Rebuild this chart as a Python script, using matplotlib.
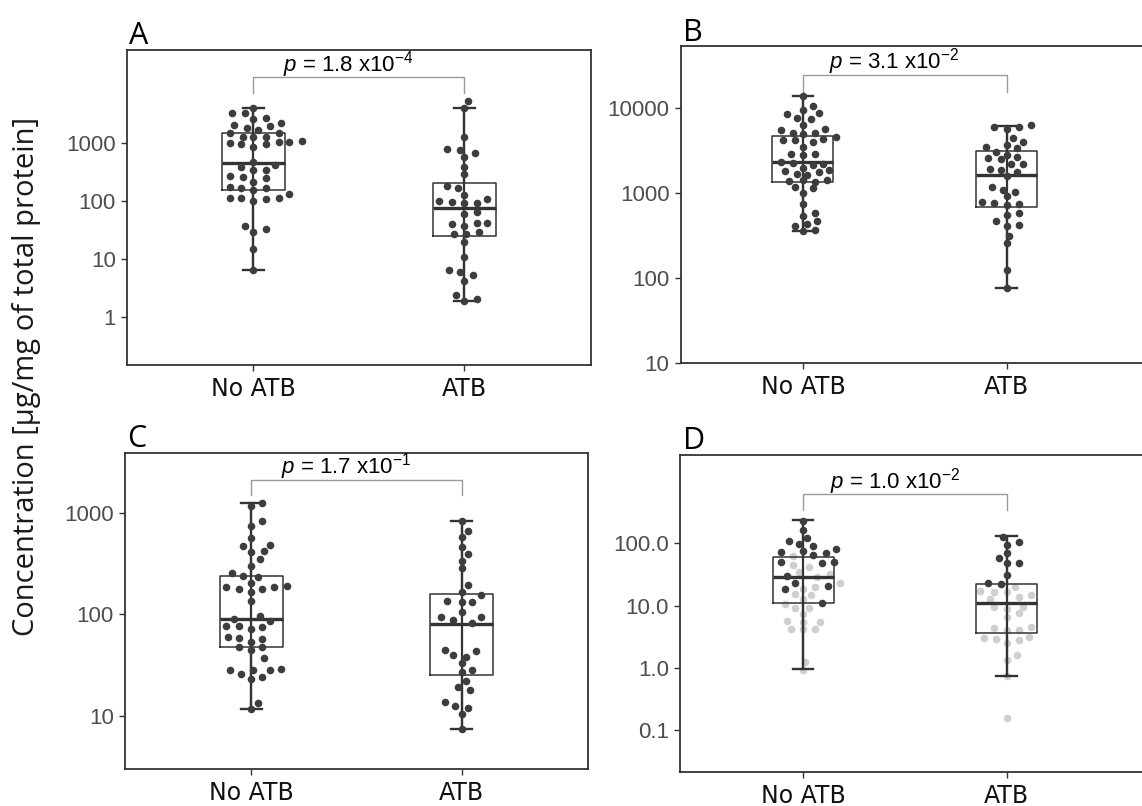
import numpy as np
import matplotlib.pyplot as plt
from matplotlib.ticker import NullLocator

plt.rcParams['font.family'] = ['Liberation Sans', 'DejaVu Sans']
plt.rcParams['mathtext.fontset'] = 'custom'
plt.rcParams['mathtext.rm'] = 'Liberation Sans'
plt.rcParams['mathtext.it'] = 'Liberation Sans:italic'

groups = ['No ATB', 'ATB']
ylabel = 'Concentration [µg/mg of total protein]'

# ---- panel A ----
a_no = [4010, 3200, 3200, 2560, 2700, 2150, 2020, 1770, 1650, 1940, 1490, 1270, 1270, 1270, 1450,
        1000, 935, 853, 948, 1010, 1010, 1070, 385, 470, 412, 338, 338, 266, 259, 213, 249,
        174, 167, 153, 167, 113, 110, 99, 107, 113, 129, 36, 29, 32, 14.5, 6.4]
a_no_dx = [0, -0.10, -0.04, 0, 0.06, 0.13, -0.09, -0.03, 0.02, 0.08, -0.11, -0.05, 0, 0.06, 0.12,
           -0.11, -0.06, 0, 0.06, 0.12, 0.17, 0.23, -0.06, 0, 0.10, 0, 0.06, -0.11, -0.05, 0, 0.06,
           -0.11, -0.06, 0, 0.06, -0.11, -0.06, 0, 0.06, 0.12, 0.17, -0.04, 0, 0.06, 0, 0]
a_atb = [5300, 4010, 1270, 778, 748, 655, 558, 385, 284, 179, 167, 125, 99, 96, 90, 92, 105, 60,
         65, 40, 37, 41, 42, 27, 27, 29, 19.6, 10.8, 6.5, 5.8, 5.2, 4.2, 2.4, 1.9, 2.0]
a_atb_dx = [0.02, 0, 0, -0.08, -0.02, 0.05, 0, 0, 0, -0.08, -0.03, 0, -0.12, -0.06, 0, 0.06, 0.11, 0,
            0.06, -0.06, 0, 0.06, 0.11, -0.05, 0.01, 0.07, 0, 0, -0.07, -0.02, 0.04, 0, -0.04, 0, 0.06]
a_med = [452, 76]
a_q1 = [153, 24.6]
a_q3 = [1450, 199]
a_lo = [6.4, 1.9]
a_hi = [4010, 4010]

# ---- panel B ----
b_no = [13500, 8430, 9390, 10470, 8730, 7500, 7300, 6250, 5470, 5000, 4860, 5000, 5570, 4560, 4170,
        4170, 3480, 3990, 4250, 2860, 2780, 2830, 2320, 2220, 1940, 2120, 2180, 1800, 1650, 1620,
        1730, 1820, 1380, 1390, 1350, 1420, 1150, 990, 1130, 733, 535, 574, 408, 431, 459, 350, 360]
b_no_dx = [0, -0.08, 0, 0.05, 0.08, -0.03, 0.04, 0, -0.11, -0.05, 0, 0.06, 0.11, 0.16, -0.10,
           -0.04, 0, 0.05, 0.10, -0.06, 0, 0.06, -0.11, -0.05, 0, 0.05, 0.10, -0.09, -0.03, 0.02,
           0.08, 0.13, -0.07, 0, 0.06, 0.12, -0.04, 0, 0.05, 0, 0, 0.06, -0.04, 0.02, 0.07, 0, 0.06]
b_atb = [5880, 5570, 5880, 6250, 4360, 3990, 3480, 3650, 2990, 3340, 2540, 2470, 2780, 2610, 2160,
         2160, 1900, 1850, 1550, 1730, 1180, 1080, 1010, 902, 767, 754, 707, 733, 550, 574, 458,
         408, 411, 311, 255, 122, 76]
b_atb_dx = [-0.06, 0, 0.06, 0.12, 0.03, 0.08, -0.10, 0, -0.05, 0.05, -0.09, -0.03, 0, 0.05, 0.02,
            0.08, -0.08, -0.03, 0, 0.05, -0.07, -0.02, 0.04, 0, -0.12, -0.06, 0, 0.06, 0, 0.06, -0.05,
            0, 0.06, 0.01, 0, 0, 0]
b_med = [2320, 1620]
b_q1 = [1350, 670]
b_q3 = [4690, 3100]
b_lo = [350, 76]
b_hi = [13500, 6150]

# ---- panel C ----
c_no = [1250, 1160, 828, 745, 568, 473, 481, 413, 423, 347, 301, 257, 235, 231, 202, 185, 178, 167,
        176, 187, 191, 135, 96, 89, 85, 77, 76, 71, 74, 60, 58, 53, 57, 47, 44, 47, 37, 28, 26, 28,
        28, 29, 23, 24, 13.3, 11.6]
c_no_dx = [0.05, 0, 0.05, 0, 0, -0.04, 0.09, 0, 0.06, 0.04, 0, -0.09, -0.04, 0.03, 0, -0.12, -0.06, 0,
           0.05, 0.11, 0.17, 0, 0.04, -0.08, 0.09, -0.12, -0.06, 0, 0.05, -0.11, -0.06, 0, 0.05, -0.06,
           0, 0.05, 0.06, -0.10, -0.05, 0.01, 0.09, 0.14, 0, 0.05, 0.03, 0]
c_atb = [828, 661, 571, 456, 389, 337, 283, 195, 167, 153, 135, 131, 133, 105, 93, 88, 81, 93, 44,
         40, 38, 43, 33, 27, 28, 22, 19, 17.8, 13.6, 12.4, 11.9, 10.5, 7.4]
c_atb_dx = [0, 0.03, 0, 0, 0.03, 0, 0, 0.03, 0, 0.09, -0.07, 0, 0.05, 0, -0.10, -0.04, 0.05, 0.09,
            -0.08, -0.04, 0.02, 0.07, 0, 0, 0.05, 0.02, -0.02, 0.04, -0.08, -0.03, 0.03, 0, 0]
c_med = [89, 80]
c_q1 = [47, 25.3]
c_q3 = [235, 157]
c_lo = [11.6, 7.4]
c_hi = [1250, 828]

# ---- panel D (dark = above threshold, grey = below) ----
d_no = [231, 164, 123, 109, 96, 91, 75, 72, 80, 69, 65, 50, 49, 50, 30, 23, 20.7, 18.5, 10.9]
d_no_dx = [0, 0, 0.02, -0.07, -0.02, 0.05, 0, -0.11, 0.16, 0.11, 0.05, -0.11, 0.09, 0.15, -0.08,
           -0.04, 0.12, -0.09, 0.09]
d_no_low = [63, 45, 42, 35, 32, 29, 22.8, 20.2, 18.5, 15.4, 14.8, 12.6, 10.6, 9.3, 9.1, 7.3, 5.7,
            5.4, 5.5, 4.3, 4.2, 4.2, 1.26, 0.93]
d_no_low_dx = [-0.05, -0.05, 0.03, -0.02, 0.13, 0.07, 0.18, 0.06, 0, -0.04, 0.04, 0, -0.09, -0.04,
               0.03, 0, -0.08, 0, 0.08, -0.06, 0, 0.06, 0.01, 0]
d_atb = [128, 104, 94, 71, 59, 49, 49, 31, 23, 22]
d_atb_dx = [-0.02, 0.06, 0, 0, -0.04, 0.06, 0, 0, -0.09, -0.03]
d_atb_low = [17.4, 16.8, 16.8, 20.2, 13.9, 14.8, 12.6, 9.4, 8.7, 9.6, 6.5, 7.7, 4.4, 4.1, 4.1, 4.6,
             3.0, 2.9, 2.5, 2.8, 3.2, 1.6, 1.34, 0.74, 0.156]
d_atb_low_dx = [-0.13, -0.06, 0, 0.04, 0.06, 0.12, -0.08, -0.06, 0, 0.08, 0, 0.06, -0.06, 0, 0.06,
                0.12, -0.11, -0.05, 0, 0.06, 0.11, 0.05, 0, 0, 0]
d_med = [28.5, 10.9]
d_q1 = [10.9, 3.7]
d_q3 = [61, 22]
d_lo = [0.95, 0.75]
d_hi = [234, 131]

p_mant = ['1.8', '3.1', '1.7', '1.0']
p_exp = ['-4', '-2', '-1', '-2']

W, H = 1142, 806
fig = plt.figure(figsize=(W / 100, H / 100), dpi=100)
DARK = '#3d3d3d'
LINE = '#333333'


def px_rect(l, t, r, b):
    return [l / W, 1 - b / H, (r - l) / W, (b - t) / H]


def panel(rect, xlim, ylim, yticks, yticklabels, letter, letter_xy,
          pts, lows, med, q1, q3, lo, hi, k, bracket):
    ax = fig.add_axes(rect)
    ax.set_yscale('log')
    stats = []
    for i in range(2):
        stats.append(dict(med=med[i], q1=q1[i], q3=q3[i], whislo=lo[i], whishi=hi[i], fliers=[]))
    ax.bxp(stats, positions=[1, 2], widths=0.3, showfliers=False, capwidths=0.1,
           boxprops=dict(color=LINE, lw=1.1), medianprops=dict(color=LINE, lw=2.4),
           whiskerprops=dict(color=LINE, lw=1.6), capprops=dict(color=LINE, lw=1.7),
           manage_ticks=False, zorder=2)
    ax.vlines([1, 2], lo, hi, color=LINE, lw=1.6, zorder=2)
    for i, (vals, dx) in enumerate(lows):
        ax.scatter(i + 1 + np.array(dx), vals, s=30, color='#cfcfcf', lw=0, zorder=1.5)
    for i, (vals, dx) in enumerate(pts):
        ax.scatter(i + 1 + np.array(dx), vals, s=30, color=DARK, lw=0, zorder=3)

    ax.set_xlim(*xlim)
    ax.set_ylim(*ylim)
    ax.set_xticks([1, 2])
    ax.set_xticklabels(groups, fontsize=17, family='DejaVu Sans', color='#111111')
    ax.set_yticks(yticks)
    ax.set_yticklabels(yticklabels)
    ax.yaxis.set_minor_locator(NullLocator())
    ax.tick_params(axis='y', labelsize=16, labelcolor='#4d4d4d', length=4, width=1, color=LINE, pad=4)
    ax.tick_params(axis='x', length=4, width=1, color=LINE, pad=5)
    for s in ax.spines.values():
        s.set_color(LINE)
        s.set_linewidth(1.3)

    by, drop, ty = bracket
    tr = ax.get_xaxis_transform()
    ax.plot([1, 1, 2, 2], [drop, by, by, drop], color='#9a9a9a', lw=1, transform=tr, clip_on=False)
    ax.text(1.45, ty, r'$p$ = ' + p_mant[k] + r' x10$^{\mathregular{' + p_exp[k] + '}}$',
            transform=tr, ha='center', va='baseline', fontsize=16, color='black')

    fig.text(letter_xy[0] / W, 1 - letter_xy[1] / H, letter, fontsize=22,
             family=['Open Sans', 'DejaVu Sans'], va='baseline', ha='left')
    return ax


panel(px_rect(127, 50, 590.7, 365), (0.4, 2.6), (10 ** -0.833, 10 ** 4.598),
      [1, 10, 100, 1000], ['1', '10', '100', '1000'], 'A', (129, 44),
      [(a_no, a_no_dx), (a_atb, a_atb_dx)], [], a_med, a_q1, a_q3, a_lo, a_hi, 0,
      (0.915, 0.864, 0.932))

panel(px_rect(680.7, 46, 1160, 362.7), (0.4, 2.753), (10 ** 1.0, 10 ** 4.724),
      [10, 100, 1000, 10000], ['10', '100', '1000', '10000'], 'B', (683, 41),
      [(b_no, b_no_dx), (b_atb, b_atb_dx)], [], b_med, b_q1, b_q3, b_lo, b_hi, 1,
      (0.908, 0.856, 0.93))

panel(px_rect(125, 452.7, 588, 769), (0.4, 2.6), (10 ** 0.475, 10 ** 3.59),
      [10, 100, 1000], ['10', '100', '1000'], 'C', (127, 447),
      [(c_no, c_no_dx), (c_atb, c_atb_dx)], [], c_med, c_q1, c_q3, c_lo, c_hi, 2,
      (0.914, 0.866, 0.935))

panel(px_rect(680, 455, 1160, 771.7), (0.394, 2.754), (10 ** -1.663, 10 ** 3.417),
      [0.1, 1, 10, 100], ['0.1', '1.0', '10.0', '100.0'], 'D', (683, 449),
      [(d_no, d_no_dx), (d_atb, d_atb_dx)], [(d_no_low, d_no_low_dx), (d_atb_low, d_atb_low_dx)],
      d_med, d_q1, d_q3, d_lo, d_hi, 3, (0.876, 0.826, 0.895))

fig.text(27 / W, 1 - 376 / H, ylabel, rotation=90, ha='center', va='center', fontsize=21,
         family=['Open Sans', 'DejaVu Sans'], color='#1a1a1a')

fig.savefig('out.png', dpi=100)
